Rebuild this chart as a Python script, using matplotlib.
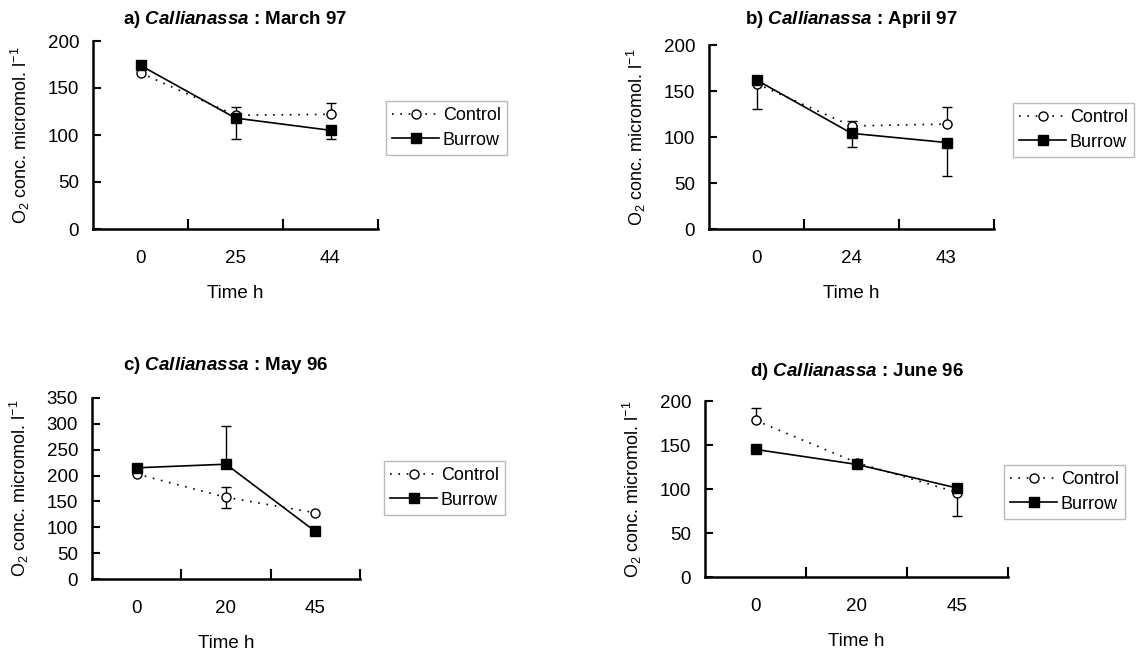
"""Oxygen concentration in Callianassa burrows vs control, four sampling months."""

import matplotlib.pyplot as plt
import numpy as np

plt.rcParams.update({
    'font.family': 'Liberation Sans',
    'font.size': 13.5,
    'mathtext.fontset': 'custom',
    'mathtext.rm': 'Liberation Sans',
    'mathtext.it': 'Liberation Sans:italic:bold',
    'mathtext.bf': 'Liberation Sans:bold',
})

panel_labels = ['a)', 'b)', 'c)', 'd)']
months = ['March 97', 'April 97', 'May 96', 'June 96']
time_labels = [['0', '25', '44'], ['0', '24', '43'], ['0', '20', '45'], ['0', '20', '45']]
y_max = [200, 200, 350, 200]

control = [[166, 121, 122], [158, 112, 114], [203, 158, 128], [178, 130, 96]]
burrow = [[174, 118, 105], [162, 104, 94], [215, 222, 92], [145, 128, 101]]
control_err_up = [[0, 9, 12], [0, 5, 19], [0, 19, 0], [14, 0, 0]]
control_err_lo = [[0, 0, 0], [0, 0, 0], [0, 21, 0], [0, 0, 0]]
burrow_err_up = [[0, 0, 0], [0, 0, 0], [0, 73, 0], [0, 0, 0]]
burrow_err_lo = [[0, 22, 9], [32, 15, 36], [0, 0, 0], [0, 0, 32]]

W, H = 1136, 650
# axes boxes in pixels: left, top, right, bottom
boxes = [(93, 41, 378, 229), (709, 45, 994, 229), (92, 398, 360, 579), (705, 401, 1008, 577)]
legend_xy = [(386, 101), (1013, 103), (384, 461), (1004, 465)]
title_pad = [12, 15, 20, 18]

fig = plt.figure(figsize=(W / 100, H / 100), dpi=100)

for i in range(4):
    l, t, r, b = boxes[i]
    ax = fig.add_axes([l / W, 1 - b / H, (r - l) / W, (b - t) / H])
    x = np.arange(3)

    for vals, up, lo in [(control[i], control_err_up[i], control_err_lo[i]),
                         (burrow[i], burrow_err_up[i], burrow_err_lo[i])]:
        vals, up, lo = np.array(vals), np.array(up), np.array(lo)
        m = (up > 0) | (lo > 0)
        if m.any():
            ax.errorbar(x[m], vals[m], yerr=[lo[m], up[m]], fmt='none', ecolor='k',
                        elinewidth=1.0, capsize=3.5, capthick=1.0, zorder=1)

    ax.plot(x, control[i], linestyle=(0, (1, 4)), color='k', lw=1.2, marker='o',
            markersize=6.5, markerfacecolor='white', markeredgecolor='k', markeredgewidth=1.0,
            label='Control', zorder=2)
    ax.plot(x, burrow[i], linestyle='-', color='k', lw=1.2, marker='s',
            markersize=7.5, markerfacecolor='k', markeredgecolor='k',
            label='Burrow', zorder=3)

    ax.set_xlim(-0.5, 2.5)
    ax.set_ylim(0, y_max[i])
    ax.set_yticks(np.arange(0, y_max[i] + 1, 50))
    ax.set_xticks([0.5, 1.5, 2.5])
    ax.set_xticklabels([])
    ax.set_xticks(x, minor=True)
    ax.set_xticklabels(time_labels[i], minor=True)
    ax.tick_params(axis='x', which='major', direction='in', length=7, width=1.5)
    ax.tick_params(axis='x', which='minor', length=0, pad=15)
    ax.tick_params(axis='y', direction='in', length=6, width=1.5, pad=10)

    for s in ['top', 'right']:
        ax.spines[s].set_visible(False)
    for s in ['left', 'bottom']:
        ax.spines[s].set_linewidth(1.8)

    ax.set_xlabel('Time h', labelpad=13)
    ax.set_ylabel('O$_2$ conc. micromol. l$^{-1}$', fontsize=13, labelpad=11)
    ax.set_title(f'{panel_labels[i]} $Callianassa$ : {months[i]}', fontweight='bold',
                 fontsize=13.5, pad=title_pad[i])

    lx, ly = legend_xy[i]
    ax.legend(loc='upper left', bbox_to_anchor=(lx / W, 1 - ly / H), bbox_transform=fig.transFigure,
              frameon=True, fancybox=False, edgecolor='#bbbbbb', framealpha=1,
              handlelength=2.6, handletextpad=0.2, borderpad=0.35, labelspacing=0.4,
              fontsize=13, borderaxespad=0)

fig.savefig('out.png', dpi=100)
